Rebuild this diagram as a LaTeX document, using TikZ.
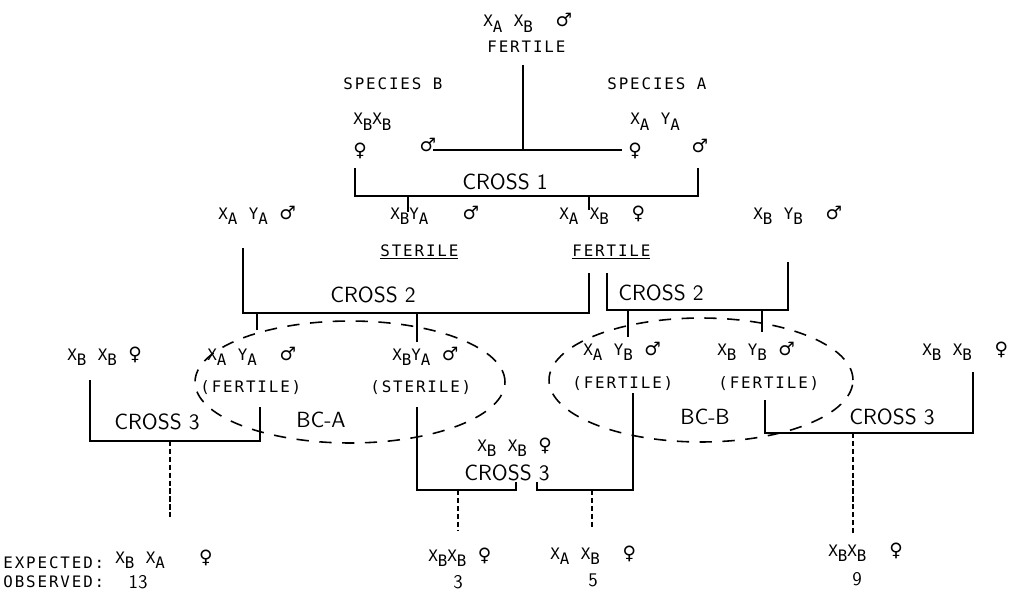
\documentclass[tikz,border=0pt]{standalone}
\usepackage{fontspec}
\newfontfamily\gfontfam[LetterSpace=12]{DejaVu Sans Mono}
\newfontfamily\symfam{DejaVu Sans}
\usetikzlibrary{positioning}

\newcommand{\gfont}{\gfontfam\fontsize{9}{10}\selectfont}
\newcommand{\crossfont}{\sffamily\fontsize{12.5}{13}\selectfont}
\newcommand{\gn}[2]{#1\raisebox{-.6ex}{#2}}
\newcommand{\gap}{\hskip 6.5pt\relax}
\newcommand{\fem}{{\symfam\fontsize{10.5}{10}\selectfont ♀}}
\newcommand{\mal}{{\symfam\fontsize{10.5}{10}\selectfont ♂}}

\begin{document}
\begin{tikzpicture}[x=0.02cm,y=-0.02cm,
  lab/.style={font=\gfont,inner sep=0pt,anchor=base west},
  cross/.style={font=\crossfont,inner sep=0pt},
  num/.style={font=\sffamily\fontsize{11}{12}\selectfont,inner sep=0pt,anchor=base},
  ln/.style={line width=1.4pt},
  bc/.style={line width=0.9pt,dash pattern=on 7pt off 6pt},
  res/.style={line width=1.3pt,dash pattern=on 3pt off 1.5pt}]
\useasboundingbox (0,0) rectangle (1017,591);

% parents and the first hybrid
\node[lab] (hyb) at (483,27) {\gn{X}{A}\gap\gn{X}{B}\gap\gap\mal};
\node[lab] (hybf) at (487,53) {FERTILE};
\node[lab] (spb) at (343,90) {SPECIES B};
\node[lab] (spa) at (607,90) {SPECIES A};
\node[lab] (bxx) at (353,125) {\gn{X}{B}\gn{X}{B}};
\node (bfem) at (360,151) {\fem};
\node (bmal) at (428,145) {\mal};
\node[lab] (axy) at (630,125) {\gn{X}{A}\gap\gn{Y}{A}};
\node (afem) at (635,151) {\fem};
\node (amal) at (700,146) {\mal};
\coordinate (t1) at (523,65);
\coordinate (t2) at (433,150);
\coordinate (t3) at (622,150);
\draw[ln] (t2) -- (t3);
\draw[ln] (t1) -- (t1 |- t2);

% cross 1
\node[cross] (c1) at (505,182) {CROSS 1};
\coordinate (c1l) at (355,168);
\coordinate (c1r) at (698,168);
\coordinate (c1b) at (355,196);
\draw[ln] (c1l) -- (c1b) -| (c1r);
\coordinate (f1s) at (408,212);
\coordinate (f1f) at (589,210);
\draw[ln] (f1s |- c1b) -- (f1s);
\draw[ln] (f1f |- c1b) -- (f1f);

% F1 and the pure males
\node[lab] (amale) at (218,219) {\gn{X}{A}\gap\gn{Y}{A}\gap\mal};
\node[lab] (f1m) at (390,219) {\gn{X}{B}\gn{Y}{A}\gap\gap\gap\mal};
\node[lab] (f1w) at (559,219) {\gn{X}{A}\gap\gn{X}{B}\gap\gap\fem};
\node[lab] (bmale) at (753,219) {\gn{X}{B}\gap\gn{Y}{B}\gap\gap\mal};
\node[lab] (ster) at (380,256) {\underline{STERILE}};
\node[lab] (fert) at (572,256) {\underline{FERTILE}};

% cross 2
\node[cross] (c2a) at (373,295) {CROSS 2};
\node[cross] (c2b) at (661,293) {CROSS 2};
\coordinate (c2al) at (243,248);
\coordinate (c2ar) at (589,273);
\coordinate (c2ab) at (243,313);
\draw[ln] (c2al) -- (c2ab) -| (c2ar);
\coordinate (c2bl) at (607,273);
\coordinate (c2br) at (788,262);
\coordinate (c2bb) at (607,310);
\draw[ln] (c2bl) -- (c2bb) -| (c2br);
\coordinate (k1) at (257,330);
\coordinate (k2) at (417,342);
\coordinate (k3) at (628,337);
\coordinate (k4) at (762,332);
\draw[ln] (k1 |- c2ab) -- (k1);
\draw[ln] (k2 |- c2ab) -- (k2);
\draw[ln] (k3 |- c2bb) -- (k3);
\draw[ln] (k4 |- c2bb) -- (k4);

% backcross males
\draw[bc] (350,382) ellipse [x radius=3.1cm, y radius=1.22cm];
\draw[bc] (701,380) ellipse [x radius=3.04cm, y radius=1.24cm];
\node[lab] (bca1) at (207,360) {\gn{X}{A}\gap\gn{Y}{A}\gap\gap\mal};
\node[lab] (bca1f) at (200,392) {(FERTILE)};
\node[lab] (bca2) at (392,360) {\gn{X}{B}\gn{Y}{A}\gap\mal};
\node[lab] (bca2f) at (370,392) {(STERILE)};
\node[lab] (bcb1) at (583,355) {\gn{X}{A}\gap\gn{Y}{B}\gap\mal};
\node[lab] (bcb1f) at (572,388) {(FERTILE)};
\node[lab] (bcb2) at (717,355) {\gn{X}{B}\gap\gn{Y}{B}\gap\mal};
\node[lab] (bcb2f) at (718,388) {(FERTILE)};
\node[cross] (bca) at (321,420) {BC-A};
\node[cross] (bcb) at (705,417) {BC-B};

% test females and cross 3
\node[lab] (tf1) at (67,360) {\gn{X}{B}\gap\gn{X}{B}\gap\fem};
\node[lab] (tf2) at (477,451) {\gn{X}{B}\gap\gn{X}{B}\gap\fem};
\node[lab] (tf3) at (922,355) {\gn{X}{B}\gap\gn{X}{B}\gap\gap\fem};
\node[cross] (c3a) at (157,422) {CROSS 3};
\node[cross] (c3b) at (507,473) {CROSS 3};
\node[cross] (c3c) at (892,417) {CROSS 3};
\coordinate (c3al) at (90,380);
\coordinate (c3ar) at (260,407);
\coordinate (c3ab) at (90,441);
\draw[ln] (c3al) -- (c3ab) -| (c3ar);
\coordinate (c3bl) at (417,407);
\coordinate (c3bm) at (516,482);
\coordinate (c3bb) at (417,490);
\draw[ln] (c3bl) -- (c3bb) -| (c3bm);
\coordinate (c3bn) at (537,482);
\coordinate (c3br) at (633,393);
\draw[ln] (c3bn) -- (c3bn |- c3bb) -| (c3br);
\coordinate (c3cl) at (765,400);
\coordinate (c3cr) at (973,372);
\coordinate (c3cb) at (765,433);
\draw[ln] (c3cl) -- (c3cb) -| (c3cr);

% offspring
\coordinate (o1) at (170,520);
\coordinate (o2) at (458,530);
\coordinate (o3) at (592,528);
\coordinate (o4) at (853,533);
\draw[res] (o1 |- c3ab) -- (o1);
\draw[res] (o2 |- c3bb) -- (o2);
\draw[res] (o3 |- c3bb) -- (o3);
\draw[res] (o4 |- c3cb) -- (o4);
\node[lab] (exp) at (3,568) {EXPECTED:};
\node[lab] (obs) at (3,587) {OBSERVED:};
\node[lab] (e1) at (115,563) {\gn{X}{B}\gap\gn{X}{A}\gap\gap\gap\fem};
\node[lab] (e2) at (428,561) {\gn{X}{B}\gn{X}{B}\gap\fem};
\node[lab] (e3) at (550,559) {\gn{X}{A}\gap\gn{X}{B}\gap\gap\fem};
\node[lab] (e4) at (828,556) {\gn{X}{B}\gn{X}{B}\gap\gap\fem};
\node[num] (n1) at (138,588) {13};
\node[num] (n2) at (458,588) {3};
\node[num] (n3) at (593,586) {5};
\node[num] (n4) at (857,585) {9};
\end{tikzpicture}
\end{document}
